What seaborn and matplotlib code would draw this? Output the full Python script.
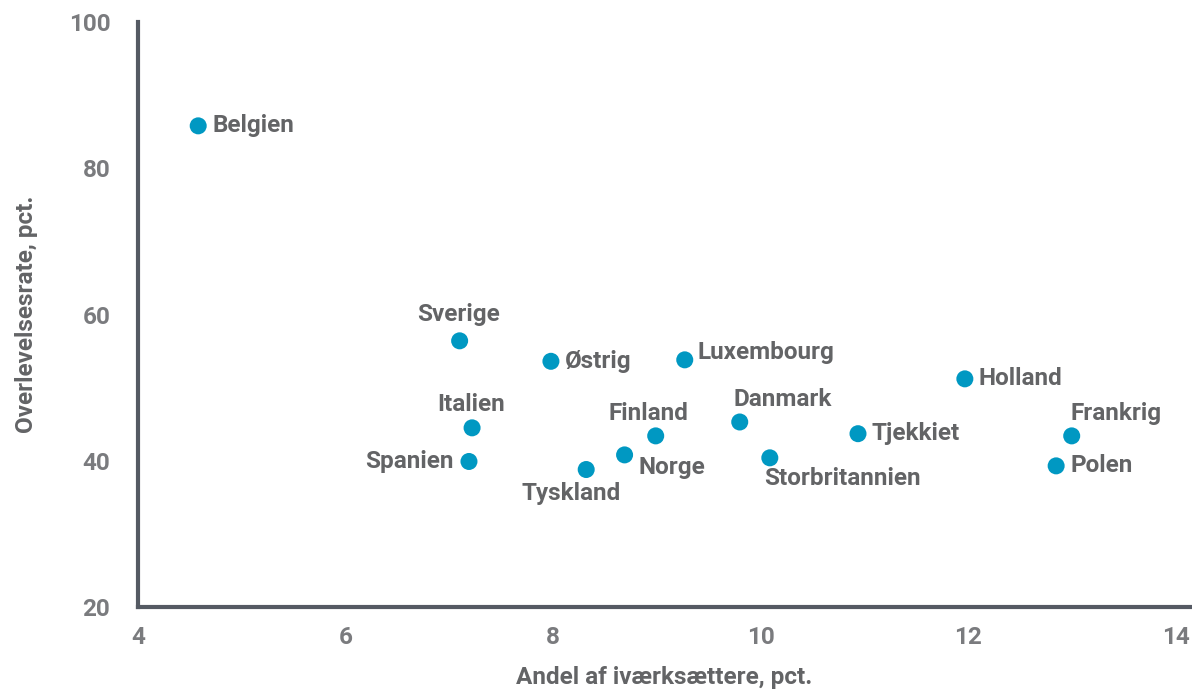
import seaborn as sns
import pandas as pd
import matplotlib.pyplot as plt
from matplotlib import use

use('agg')

# data
countries = ['Belgien', 'Sverige', 'Østrig', 'Luxembourg', 'Holland', 'Italien',
             'Spanien', 'Finland', 'Danmark', 'Norge', 'Tyskland', 'Storbritannien',
             'Tjekkiet', 'Frankrig', 'Polen']
entrepreneur_share = [4.58, 7.10, 7.98, 9.27, 11.97, 7.22,
                      7.19, 8.99, 9.80, 8.69, 8.32, 10.09,
                      10.94, 13.00, 12.85]
survival_rate = [85.8, 56.4, 53.6, 53.8, 51.2, 44.5,
                 39.9, 43.4, 45.3, 40.8, 38.8, 40.4,
                 43.7, 43.4, 39.3]

# label placement: (dx, dy) in points, ha
label_pos = {
    'Belgien': (10, 0, 'left'),
    'Sverige': (-1, 19, 'center'),
    'Østrig': (10, 0, 'left'),
    'Luxembourg': (9, 5, 'left'),
    'Holland': (10, 0, 'left'),
    'Italien': (-1, 17, 'center'),
    'Spanien': (-11, 0, 'right'),
    'Finland': (-5, 16, 'center'),
    'Danmark': (31, 16, 'center'),
    'Norge': (10, -9, 'left'),
    'Tyskland': (-11, -17, 'center'),
    'Storbritannien': (-4, -15, 'left'),
    'Tjekkiet': (10, 0, 'left'),
    'Frankrig': (-1, 16, 'left'),
    'Polen': (10, 0, 'left'),
}

df = pd.DataFrame({'land': countries, 'x': entrepreneur_share, 'y': survival_rate})

point_col = '#0098c2'
label_col = '#636466'
tick_col = '#7a7b7e'
spine_col = '#555a63'

sns.set_theme(style='white')
plt.rcParams['font.family'] = ['Roboto', 'DejaVu Sans']

fig = plt.figure(figsize=(11.92, 6.9), dpi=100, facecolor='white')
ax = fig.add_axes([0.1158, 0.1203, 0.8825, 0.8478])

sns.scatterplot(data=df, x='x', y='y', ax=ax, s=150, color=point_col,
                edgecolor='none', legend=False)

for _, row in df.iterrows():
    dx, dy, ha = label_pos[row['land']]
    ax.annotate(row['land'], (row['x'], row['y']), xytext=(dx, dy),
                textcoords='offset points', ha=ha, va='center',
                fontsize=17.5, fontweight='bold', color=label_col)

ax.set_xlim(4, 14.14)
ax.set_ylim(20, 100)
ax.set_xticks([4, 6, 8, 10, 12, 14])
ax.set_yticks([20, 40, 60, 80, 100])

for side in ['top', 'right']:
    ax.spines[side].set_visible(False)
for side in ['left', 'bottom']:
    ax.spines[side].set_color(spine_col)
    ax.spines[side].set_linewidth(3)

ax.tick_params(axis='both', length=0, labelsize=17.5, labelcolor=tick_col)
ax.tick_params(axis='x', pad=14)
ax.tick_params(axis='y', pad=20)
for lbl in ax.get_xticklabels() + ax.get_yticklabels():
    lbl.set_fontweight('bold')

font_dict = {'weight': 'bold', 'size': 17.5, 'color': label_col}
ax.set_xlabel('Andel af iværksættere, pct.', fontdict=font_dict, labelpad=12)
ax.set_ylabel('Overlevelsesrate, pct.', fontdict=font_dict, labelpad=22)

plt.savefig('out.png', dpi=100, facecolor='white')
